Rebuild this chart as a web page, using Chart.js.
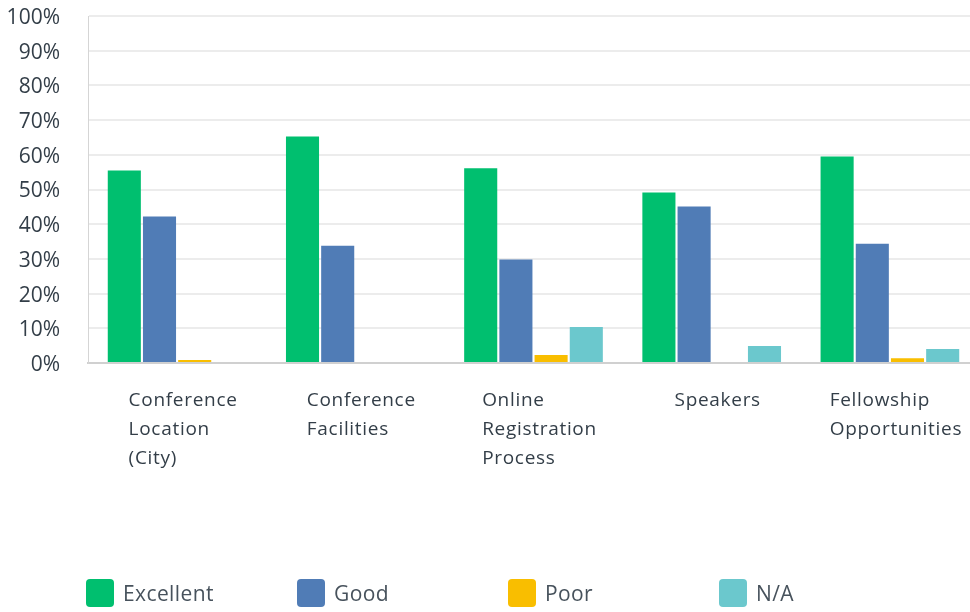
<!DOCTYPE html>
<html>
<head>
<meta charset="utf-8">
<script src="https://cdn.jsdelivr.net/npm/chart.js@4/dist/chart.umd.min.js"></script>
<style>
  html, body { margin: 0; padding: 0; background: #fff; }
  #wrap { position: relative; width: 970px; height: 612px; overflow: hidden; }
  #chart { position: absolute; left: 0; top: 0; }
  #legend { position: absolute; left: 86px; top: 579px; display: flex; font-family: "Open Sans", sans-serif; font-size: 21px; color: #47525c; }
  .item { width: 211px; display: flex; align-items: center; height: 28px; }
  .box { width: 28px; height: 28px; border-radius: 4px; margin-right: 9px; flex: none; }
  .lbl { letter-spacing: 0.4px; line-height: 28px; }
</style>
</head>
<body>
<div id="wrap">
  <canvas id="chart" width="980" height="612"></canvas>
  <div id="legend"></div>
</div>
<script>
const categories = [
  ["Conference", "Location", "(City)"],
  ["Conference", "Facilities"],
  ["Online", "Registration", "Process"],
  ["Speakers"],
  ["Fellowship", "Opportunities"]
];
const seriesNames = ["Excellent", "Good", "Poor", "N/A"];
const seriesColors = ["#00BF6F", "#507CB6", "#F9BE00", "#6BC8CD"];
const excellent = [55.5, 65.3, 56.1, 49.1, 59.5];
const good = [42.2, 33.8, 29.8, 45.1, 34.4];
const poor = [0.9, 0, 2.3, 0, 1.4];
const na = [0, 0, 10.4, 4.9, 4.0];
const yTicks = [0, 10, 20, 30, 40, 50, 60, 70, 80, 90, 100];

const seriesValues = [excellent, good, poor, na];

const xLabelPlugin = {
  id: 'xLabels',
  afterDraw(chart) {
    const ctx = chart.ctx;
    const xs = chart.scales.x;
    ctx.save();
    ctx.font = '19px "Open Sans", sans-serif';
    if ('letterSpacing' in ctx) ctx.letterSpacing = '0.7px';
    ctx.fillStyle = '#333e48';
    ctx.textAlign = 'left';
    ctx.textBaseline = 'middle';
    categories.forEach((lines, i) => {
      const cx = xs.getPixelForValue(i) + 6;
      const w = Math.max(...lines.map(l => ctx.measureText(l).width));
      const left = cx - w / 2;
      lines.forEach((line, j) => {
        ctx.fillText(line, left, 401 + j * 29);
      });
    });
    ctx.restore();
  }
};

new Chart(document.getElementById('chart'), {
  type: 'bar',
  data: {
    labels: categories.map(c => c.join(' ')),
    datasets: seriesNames.map((name, i) => ({
      label: name,
      data: seriesValues[i],
      backgroundColor: seriesColors[i],
      borderWidth: 0,
      categoryPercentage: 0.79,
      barPercentage: 0.94
    }))
  },
  options: {
    responsive: false,
    animation: false,
    layout: { padding: { top: 16, right: 1, left: 0, bottom: 0 } },
    plugins: { legend: { display: false }, tooltip: { enabled: false } },
    scales: {
      x: {
        grid: { display: false, drawTicks: false },
        border: { display: true, color: '#d0d0d0', width: 2 },
        ticks: { display: false },
        afterFit(scale) { scale.height = 249; scale.paddingLeft = 0; scale.paddingRight = 0; }
      },
      y: {
        min: 0,
        max: 100,
        afterBuildTicks(scale) { scale.ticks = yTicks.map(v => ({ value: v })); },
        grid: { color: '#ececec', lineWidth: 2, drawTicks: false },
        border: { display: true, color: '#d5d5d5', width: 1 },
        ticks: {
          padding: 28,
          labelOffset: 2,
          color: '#333e48',
          font: { family: '"Open Sans", sans-serif', size: 21 },
          callback: v => v + '%'
        },
        afterFit(scale) { scale.width = 88; scale.paddingTop = 0; scale.paddingBottom = 0; }
      }
    }
  },
  plugins: [xLabelPlugin]
});

const legend = document.getElementById('legend');
seriesNames.forEach((name, i) => {
  const item = document.createElement('div');
  item.className = 'item';
  const box = document.createElement('div');
  box.className = 'box';
  box.style.background = seriesColors[i];
  const lbl = document.createElement('span');
  lbl.className = 'lbl';
  lbl.textContent = name;
  item.appendChild(box);
  item.appendChild(lbl);
  legend.appendChild(item);
});
</script>
</body>
</html>
